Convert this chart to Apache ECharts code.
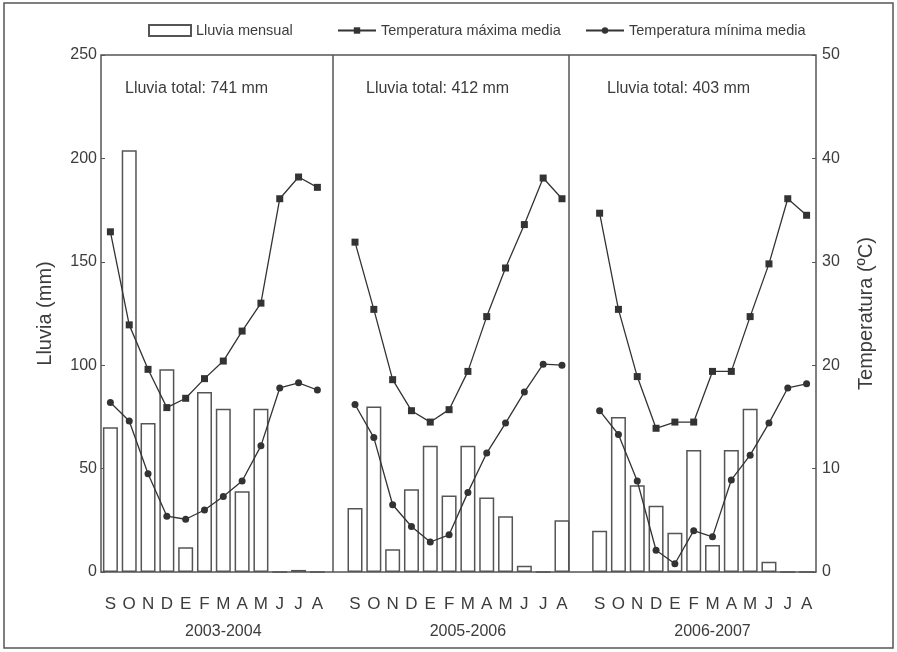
<!DOCTYPE html>
<html>
<head>
<meta charset="utf-8">
<script src="https://cdn.jsdelivr.net/npm/echarts@6/dist/echarts.min.js"></script>
<style>
  html, body { margin: 0; padding: 0; background: #fff; }
  #chart { width: 897px; height: 652px; }
</style>
</head>
<body>
<div id="chart"></div>
<script>
// months of each hydrological year, Sept -> Aug
const months = ['S', 'O', 'N', 'D', 'E', 'F', 'M', 'A', 'M', 'J', 'J', 'A'];
const years = ['2003-2004', '2005-2006', '2006-2007'];
const totals = [741, 412, 403];

// monthly rainfall (mm)
const rain0304 = [70, 204, 72, 98, 12, 87, 79, 39, 79, 0, 1, 0];
const rain0506 = [31, 80, 11, 40, 61, 37, 61, 36, 27, 3, 0, 25];
const rain0607 = [20, 75, 42, 32, 19, 59, 13, 59, 79, 5, 0, 0];

// mean max temperature (C)
const tmax0304 = [32.9, 23.9, 19.6, 15.9, 16.8, 18.7, 20.4, 23.3, 26.0, 36.1, 38.2, 37.2];
const tmax0506 = [31.9, 25.4, 18.6, 15.6, 14.5, 15.7, 19.4, 24.7, 29.4, 33.6, 38.1, 36.1];
const tmax0607 = [34.7, 25.4, 18.9, 13.9, 14.5, 14.5, 19.4, 19.4, 24.7, 29.8, 36.1, 34.5];

// mean min temperature (C)
const tmin0304 = [16.4, 14.6, 9.5, 5.4, 5.1, 6.0, 7.3, 8.8, 12.2, 17.8, 18.3, 17.6];
const tmin0506 = [16.2, 13.0, 6.5, 4.4, 2.9, 3.6, 7.7, 11.5, 14.4, 17.4, 20.1, 20.0];
const tmin0607 = [15.6, 13.3, 8.8, 2.1, 0.8, 4.0, 3.4, 8.9, 11.3, 14.4, 17.8, 18.2];

// one slot left empty between the years
const join = (a, b, c) => [...a, '-', ...b, '-', ...c];
const categories = [...months, '', ...months, '', ...months];
const yearLabels = categories.map((m, i) => (i % 13 === 6 ? years[Math.floor(i / 13)] : ''));

const chart = echarts.init(document.getElementById('chart'));
const txt = '#3c3c3c';
const ink = '#333';
const legendText = { fontSize: 14.5, color: txt };

const option = {
  animation: false,
  backgroundColor: '#fff',
  textStyle: { fontFamily: 'Liberation Sans, Arial, sans-serif', color: txt },
  grid: {
    left: 101, right: 81, top: 55, bottom: 80,
    show: true, borderColor: '#555', borderWidth: 1.5, backgroundColor: '#fff'
  },
  legend: [
    {
      data: [{ name: 'Lluvia mensual', icon: 'rect' }], left: 148, top: 23, padding: 0,
      itemWidth: 42, itemHeight: 11, itemGap: 4,
      textStyle: legendText
    },
    {
      data: ['Temperatura máxima media'], left: 337, top: 23, padding: 0,
      itemWidth: 38, itemHeight: 8,
      textStyle: legendText
    },
    {
      data: ['Temperatura mínima media'], left: 585, top: 23, padding: 0,
      itemWidth: 38, itemHeight: 8,
      textStyle: legendText
    }
  ],
  xAxis: [
    {
      type: 'category', data: categories, boundaryGap: true,
      axisLine: { show: false }, axisTick: { show: false }, splitLine: { show: false },
      axisLabel: { interval: 0, fontSize: 17, color: txt, margin: 24 }
    },
    { type: 'value', min: 0, max: 38, show: false },
    {
      type: 'category', data: yearLabels, position: 'bottom', offset: 0,
      axisLine: { show: false }, axisTick: { show: false },
      axisLabel: { interval: 0, fontSize: 16, color: txt, margin: 52 }
    }
  ],
  yAxis: [
    {
      type: 'value', min: 0, max: 250, interval: 50,
      name: 'Lluvia (mm)', nameLocation: 'middle', nameGap: 46, nameRotate: 90,
      nameTextStyle: { fontSize: 20, color: txt },
      axisLine: { show: false },
      axisTick: { show: true, inside: true, length: 4, lineStyle: { color: '#555' } },
      axisLabel: { fontSize: 16, color: txt, margin: 4 },
      splitLine: { show: false }
    },
    {
      type: 'value', min: 0, max: 50, interval: 10, position: 'right',
      name: 'Temperatura (ºC)', nameLocation: 'middle', nameGap: 40, nameRotate: 90,
      nameTextStyle: { fontSize: 20, color: txt },
      axisLine: { show: false },
      axisTick: { show: true, inside: true, length: 4, lineStyle: { color: '#555' } },
      axisLabel: { fontSize: 16, color: txt, margin: 6 },
      splitLine: { show: false }
    }
  ],
  graphic: [
    {
      type: 'rect', shape: { x: 4, y: 3, width: 889, height: 645 },
      style: { fill: 'none', stroke: '#555', lineWidth: 1.5 }, silent: true
    },
    ...totals.map((t, i) => ({
      type: 'text', left: [125, 366, 607][i], top: 81,
      style: { text: 'Lluvia total: ' + t + ' mm', fontSize: 16, fill: txt,
               fontFamily: 'Liberation Sans, Arial, sans-serif' }
    }))
  ],
  series: [
    {
      name: 'Lluvia mensual', type: 'bar', xAxisIndex: 0, yAxisIndex: 0,
      data: join(rain0304, rain0506, rain0607),
      barWidth: 15,
      itemStyle: { color: '#fff', borderColor: '#555', borderWidth: 1.5 }
    },
    {
      // panel separators
      type: 'line', xAxisIndex: 1, yAxisIndex: 0, data: [], silent: true,
      markLine: {
        symbol: 'none', silent: true, label: { show: false },
        lineStyle: { color: '#555', width: 1.5, type: 'solid' },
        data: [{ xAxis: 12.34 }, { xAxis: 24.88 }]
      }
    },
    {
      name: 'Temperatura máxima media', type: 'line', xAxisIndex: 0, yAxisIndex: 1,
      data: join(tmax0304, tmax0506, tmax0607),
      symbol: 'rect', symbolSize: 7, connectNulls: false,
      itemStyle: { color: ink }, lineStyle: { color: ink, width: 1.3 }
    },
    {
      name: 'Temperatura mínima media', type: 'line', xAxisIndex: 0, yAxisIndex: 1,
      data: join(tmin0304, tmin0506, tmin0607),
      symbol: 'circle', symbolSize: 7, connectNulls: false,
      itemStyle: { color: ink }, lineStyle: { color: ink, width: 1.3 }
    }
  ]
};

chart.setOption(option);
</script>
</body>
</html>
